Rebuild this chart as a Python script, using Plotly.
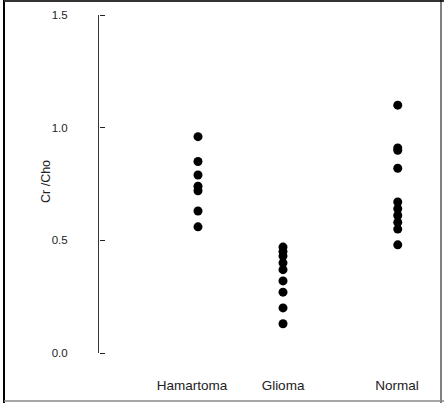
import plotly.graph_objects as go

categories = ["Hamartoma", "Glioma", "Normal"]
cat_pos = [1.0, 2.0, 3.35]
hamartoma = [0.96, 0.85, 0.79, 0.74, 0.72, 0.63, 0.56]
glioma = [0.47, 0.45, 0.43, 0.40, 0.37, 0.32, 0.27, 0.20, 0.13]
normal = [1.10, 0.91, 0.90, 0.82, 0.67, 0.64, 0.61, 0.58, 0.55, 0.48]
y_ticks = [0.0, 0.5, 1.0, 1.5]
y_tick_text = ["0.0", "0.5", "1.0", "1.5"]
y_title = "Cr /Cho"

W, H = 444, 403
L, R, T, B = 99, 4, 15, 50
pw, ph = W - L - R, H - T - B
y_range = [0, 1.5]

def px_x(px):
    return (px - L) / pw

def px_y(py):
    return (H - B - py) / ph

fig = go.Figure()
for i, (pos, vals) in enumerate(zip(cat_pos, [hamartoma, glioma, normal])):
    fig.add_trace(go.Scatter(
        x=[pos] * len(vals), y=vals, mode="markers",
        yaxis="y2" if i == 0 else "y",
        marker=dict(color="black", size=9, line=dict(width=0)),
        showlegend=False, hoverinfo="skip", cliponaxis=False,
    ))

fig.update_layout(
    width=W, height=H,
    margin=dict(l=L, r=R, t=T, b=B),
    paper_bgcolor="white", plot_bgcolor="white",
    font=dict(family="Liberation Sans, Arial, sans-serif", color="#222"),
    xaxis=dict(
        range=[1 - 99 / 85, 1 + 242 / 85],
        tickvals=[1.0 - 0.07, 2.0, 3.35 - 0.01], ticktext=categories,
        showline=False, showgrid=False, zeroline=False, ticks="",
        tickfont=dict(size=13.5, color="#222"), ticklabelstandoff=22,
    ),
    yaxis=dict(
        range=y_range, tickmode="array", tickvals=y_ticks, ticktext=y_tick_text,
        showline=True, linecolor="#333", linewidth=1,
        showgrid=False, zeroline=False, ticks="",
        tickfont=dict(size=11.5, color="#222"), ticklabelstandoff=28,
    ),
    yaxis2=dict(
        range=y_range, overlaying="y", side="right", anchor="free", position=0,
        tickmode="array", tickvals=y_ticks, showticklabels=False,
        showline=False, showgrid=False, zeroline=False,
        ticks="outside", ticklen=5, tickwidth=1, tickcolor="#222",
    ),
    annotations=[dict(
        text=y_title, textangle=-90, xref="paper", yref="paper",
        x=px_x(37), y=px_y(182), showarrow=False,
        font=dict(size=12.5, color="#222"),
    )],
    shapes=[
        dict(type="line", xref="paper", yref="paper",
             x0=px_x(4), x1=px_x(4), y0=px_y(0), y1=px_y(403),
             line=dict(color="black", width=2)),
        dict(type="line", xref="paper", yref="paper",
             x0=px_x(4), x1=px_x(444), y0=px_y(1), y1=px_y(1),
             line=dict(color="#333", width=2)),
        dict(type="line", xref="paper", yref="paper",
             x0=px_x(441), x1=px_x(441), y0=px_y(0), y1=px_y(403),
             line=dict(color="black", width=1)),
        dict(type="line", xref="paper", yref="paper",
             x0=px_x(4), x1=px_x(444), y0=px_y(401), y1=px_y(401),
             line=dict(color="#888", width=1.5)),
    ],
)

fig.write_html(
    "out.html",
    config={"displayModeBar": False},
    post_script="document.body.style.margin='0';document.body.style.padding='0';",
)
